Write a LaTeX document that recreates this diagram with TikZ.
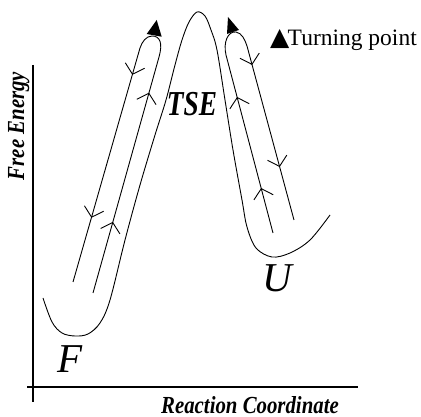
\documentclass[tikz,border=0pt]{standalone}
\usepackage{fontspec}
\setmainfont{Liberation Serif}
\newfontfamily\dejavu{DejaVu Sans}
\newfontfamily\condserif[FakeStretch=0.85]{Liberation Serif}
\usetikzlibrary{arrows.meta,decorations.markings}
\tikzset{
  barbtip/.tip={Straight Barb[length=9pt,width=20pt]},
  thinline/.style={line width=0.9pt},
  axisline/.style={line width=1.1pt},
  marker/.style={fill=black},
  axislabel/.style={font=\condserif\fontsize{24.5}{24.5}\selectfont\bfseries\itshape, anchor=base},
  statelabel/.style={font=\fontsize{41}{41}\selectfont\itshape, anchor=base},
}
\begin{document}
\begin{tikzpicture}[x=1pt,y=-1pt]
\useasboundingbox (0,0) rectangle (421,417);
% axes
\coordinate (ytop) at (33,65);
\coordinate (ybot) at (33,402);
\coordinate (xl) at (27,387);
\coordinate (xr) at (358,387);
\draw[axisline] (ytop) -- (ybot);
\draw[axisline] (xl) -- (xr);
% free energy profile
\draw[thinline] plot[smooth, tension=0.55] coordinates {
 (43,298) (52,322) (62,333) (75,336) (88,334) (100,323) (110,300) (125,240)
 (140,185) (155,135) (166,100) (175,65) (182,40) (189,22) (197,12) (205,16)
 (211,30) (217,50) (225,100) (233,150) (242,200) (247,227) (256,248) (272,257)
 (290,253) (310,240) (330,215)};
% left trajectory
\draw[thinline, decoration={markings,
   mark=at position 73.8pt with {\arrow{barbtip}},
   mark=at position 208pt with {\arrow{barbtip}},
   mark=at position -215.5pt with {\arrow{barbtip}},
   mark=at position -66.8pt with {\arrow{barbtip}}}, postaction=decorate]
  (93,293) -- (159,57) .. controls (163,43) and (160,36) .. (152,36)
  .. controls (146,36) and (142,42) .. (140,48) -- (73,282);
% right trajectory
\draw[thinline, decoration={markings,
   mark=at position 46.5pt with {\arrow{barbtip}},
   mark=at position 140.7pt with {\arrow{barbtip}},
   mark=at position -160.6pt with {\arrow{barbtip}},
   mark=at position -54.9pt with {\arrow{barbtip}}}, postaction=decorate]
  (273,233) -- (226,55) .. controls (223,42) and (228,31) .. (236,32)
  .. controls (242,33) and (245,40) .. (247,46) -- (294,220);
% turning points
\fill[marker] (156.7,20) -- (146.7,34) -- (161.7,36.7) -- cycle;
\fill[marker] (228,17) -- (227,34) -- (239,30) -- cycle;
% labels
\node[axislabel, rotate=90] (fe) at (24,126) {Free Energy};
\node[axislabel] (rc) at (250,413) {Reaction Coordinate};
\node[font=\fontsize{35}{35}\selectfont\bfseries\itshape, anchor=base, xscale=0.78] (tse) at (192,116) {TSE};
\node[statelabel] (F) at (70,372) {F};
\node[statelabel] (U) at (277.5,292) {U};
\node[font=\fontsize{23.5}{23.5}\selectfont, anchor=base east, inner sep=0pt] (tp) at (417,45.5) {{\dejavu\fontsize{25}{25}\selectfont ▲}\kern-1.5pt Turning point};
\end{tikzpicture}
\end{document}
